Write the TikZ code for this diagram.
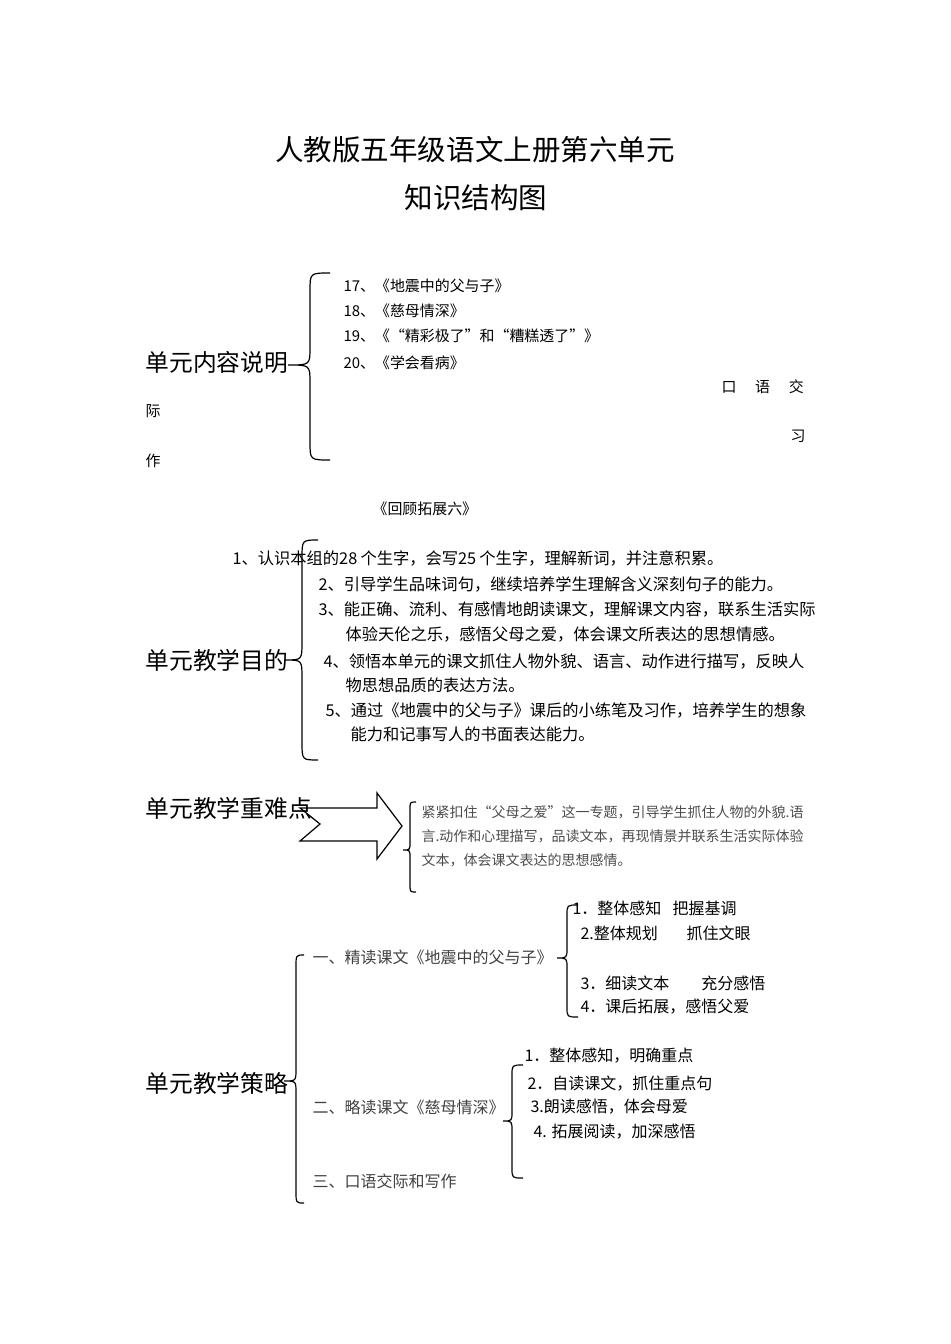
\documentclass[tikz,border=0pt]{standalone}
\usepackage{fontspec}
\setmainfont{Noto Sans CJK SC}
\usetikzlibrary{positioning}
% brace: vertical x, end x, top y, tip x, tip y, bottom y, curl
\newcommand{\kuohao}[7]{%
  \draw (#2,#3) .. controls (#1,#3) .. (#1,#3+#7) -- (#1,#5-#7)
    .. controls (#1,#5) .. (#4,#5) .. controls (#1,#5) .. (#1,#5+#7)
    -- (#1,#6-#7) .. controls (#1,#6) .. (#2,#6);}
% full width quotes
\newcommand{\zuoyin}{\makebox[1em][r]{“}}
\newcommand{\youyin}{\makebox[1em][l]{”}}

\begin{document}
\begin{tikzpicture}[x=0.75pt,y=-0.75pt,line width=0.9pt,
    every node/.style={inner sep=0pt,anchor=west},
    titel/.style={font=\fontsize{21.4}{24}\selectfont,anchor=center},
    head/.style={font=\fontsize{17.8}{20}\selectfont},
    item/.style={font=\fontsize{11.2}{13}\selectfont},
    goal/.style={font=\fontsize{12.2}{14}\selectfont},
    keypt/.style={font=\fontsize{10.5}{12}\selectfont,text=black!70},
    strat/.style={font=\fontsize{12}{14}\selectfont,text=black!75},
    sub/.style={font=\fontsize{12}{14}\selectfont}]
  \useasboundingbox (0,0) rectangle (950,1344);

  % title
  \node[titel] (title1) at (475,150) {人教版五年级语文上册第六单元};
  \node[titel] (title2) at (476,198) {知识结构图};

  % unit content
  \node[head] (neirong) at (145,362) {单元内容说明};
  \kuohao{310}{330}{273}{288}{365}{460}{18}
  \node[item] (k17) at (343,286) {17、《地震中的父与子》};
  \node[item] (k18) at (343,311) {18、《慈母情深》};
  \node[item] (k19) at (343,336) {19、《\zuoyin 精彩极了\youyin 和\zuoyin 糟糕透了\youyin》};
  \node[item] (k20) at (343,363) {20、《学会看病》};
  \node[item] (kou) at (721,387) {口\hspace{1.25em}语\hspace{1.25em}交};
  \node[item] (ji) at (145,411) {际};
  \node[item] (xi) at (790,436) {习};
  \node[item] (zuo) at (145,461) {作};
  \node[item] (huigu) at (372,509) {《回顾拓展六》};

  % unit goals
  \node[head] (mudi) at (145,660) {单元教学目的};
  \kuohao{302}{318}{540}{285}{660}{760}{18}
  \node[goal] (g1) at (232,558) {1、认识本组的28\hspace{0.2em}个生字，会写25\hspace{0.2em}个生字，理解新词，并注意积累。};
  \node[goal] (g2) at (318,584) {2、引导学生品味词句，继续培养学生理解含义深刻句子的能力。};
  \node[goal] (g3) at (318,609) {3、能正确、流利、有感情地朗读课文，理解课文内容，联系生活实际};
  \node[goal] (g3b) at (345,634) {体验天伦之乐，感悟父母之爱，体会课文所表达的思想情感。};
  \node[goal] (g4) at (323,661) {4、领悟本单元的课文抓住人物外貌、语言、动作进行描写，反映人};
  \node[goal] (g4b) at (345,685) {物思想品质的表达方法。};
  \node[goal] (g5) at (325,710) {5、通过《地震中的父与子》课后的小练笔及习作，培养学生的想象};
  \node[goal] (g5b) at (350,734) {能力和记事写人的书面表达能力。};

  % key points
  \node[head] (zhongnan) at (145,808) {单元教学重难点};
  \draw (300,808) -- (377,808) -- (377,793) -- (402,826) -- (377,859)
    -- (377,841) -- (300,841) -- (320,824) -- cycle;
  \kuohao{410}{416}{802}{403}{850}{892}{8}
  \node[keypt] (z1) at (421,812) {紧紧扣住“父母之爱”这一专题，引导学生抓住人物的外貌.语};
  \node[keypt] (z2) at (421,836) {言.动作和心理描写，品读文本，再现情景并联系生活实际体验};
  \node[keypt] (z3) at (421,860) {文本，体会课文表达的思想感情。};

  % strategies
  \node[head] (celue) at (145,1083) {单元教学策略};
  \kuohao{296}{304}{955}{284}{1081}{1203}{12}
  \node[strat] (s1) at (312,957) {一、精读课文《地震中的父与子》};
  \kuohao{567}{578}{905}{557}{958}{1017}{10}
  \node[sub] (a1) at (572,908) {1．整体感知\hspace{0.7em}把握基调};
  \node[sub] (a2) at (580,933) {2.整体规划\hspace{1.8em}抓住文眼};
  \node[sub] (a3) at (580,983) {3．细读文本\hspace{2em}充分感悟};
  \node[sub] (a4) at (580,1007) {4．课后拓展，感悟父爱};
  \node[strat] (s2) at (312,1107) {二、略读课文《慈母情深》};
  \kuohao{512}{523}{1065}{503}{1121}{1178}{10}
  \node[sub] (b1) at (524,1056) {1．整体感知，明确重点};
  \node[sub] (b2) at (527,1084) {2．自读课文，抓住重点句};
  \node[sub] (b3) at (530,1107) {3.朗读感悟，体会母爱};
  \node[sub] (b4) at (533,1132) {4. 拓展阅读，加深感悟};
  \node[strat] (s3) at (312,1181) {三、口语交际和写作};
\end{tikzpicture}
\end{document}
